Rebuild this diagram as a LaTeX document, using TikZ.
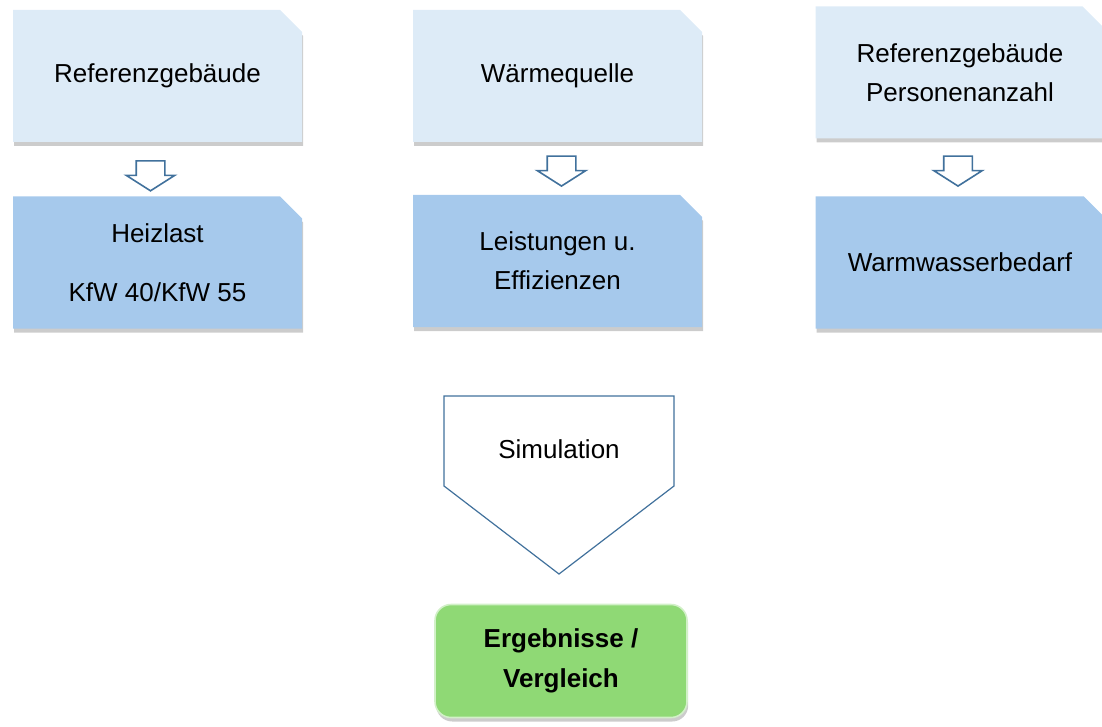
\documentclass[tikz,border=0pt]{standalone}
\usepackage{fontspec}
\setmainfont{Liberation Sans}
\usetikzlibrary{shapes.misc,shapes.arrows,shadows,calc}

\definecolor{inputblue}{RGB}{221,235,247}
\definecolor{resultblue}{RGB}{166,201,236}
\definecolor{resultgreen}{RGB}{143,217,117}
\definecolor{arrowline}{RGB}{65,113,156}

\begin{document}
\begin{tikzpicture}[x=0.5pt, y=-0.5pt,
  card/.style={chamfered rectangle, chamfered rectangle corners=north east, chamfered rectangle sep=5.5pt,
    minimum width=144.5pt, minimum height=66pt, inner sep=0pt, align=center,
    font=\fontsize{13}{19.5}\selectfont,
    drop shadow={shadow xshift=0.6pt, shadow yshift=-2pt, opacity=0.4}},
  inputcard/.style={card, fill=inputblue},
  resultcard/.style={card, fill=resultblue},
  downarrow/.style={single arrow, draw=arrowline, fill=white, line width=0.8pt, inner xsep=0pt, inner ysep=6.75pt,
    minimum height=15pt, minimum width=23.5pt, single arrow head extend=5pt,
    single arrow tip angle=115, rotate=-90}]
\useasboundingbox (0,0) rectangle (1102,727);
% input row
\node[inputcard] (building) at (157.5,76) {Referenzgebäude};
\node[inputcard] (source) at (557.5,76) {Wärmequelle};
\node[inputcard] (persons) at (960,72.5) {Referenzgebäude\\Personenanzahl};
% derived values
\node[resultcard] (load) at (157.5,262.5) {Heizlast\\[10pt]KfW 40/KfW 55};
\node[resultcard] (power) at (557.5,261) {Leistungen u.\\Effizienzen};
\node[resultcard] (water) at (960,262.5) {Warmwasserbedarf};
% arrows in between
\node[downarrow] (a1) at ($(building.south)!0.5!(load.north)+(-7,2)$) {};
\node[downarrow] (a2) at ($(source.south)!0.5!(power.north)+(4,-2)$) {};
\node[downarrow] (a3) at ($(persons.south)!0.5!(water.north)+(-2,-1)$) {};
% simulation and result
\draw[arrowline, fill=white, line width=0.6pt] (444,396) -- (674,396) -- (674,486) -- (559,574) -- (444,486) -- cycle;
\node[font=\fontsize{13}{19.5}\selectfont] (sim) at (559,449) {Simulation};
\node[rectangle, rounded corners=8pt, fill=resultgreen, draw=resultgreen!40!white, line width=0.8pt,
  minimum width=126pt, minimum height=56.5pt, align=center, font=\fontsize{13}{20}\selectfont\bfseries,
  drop shadow={shadow xshift=0.6pt, shadow yshift=-2pt, opacity=0.4}] (result) at (561,661)
  {Ergebnisse /\\Vergleich};
\end{tikzpicture}
\end{document}
